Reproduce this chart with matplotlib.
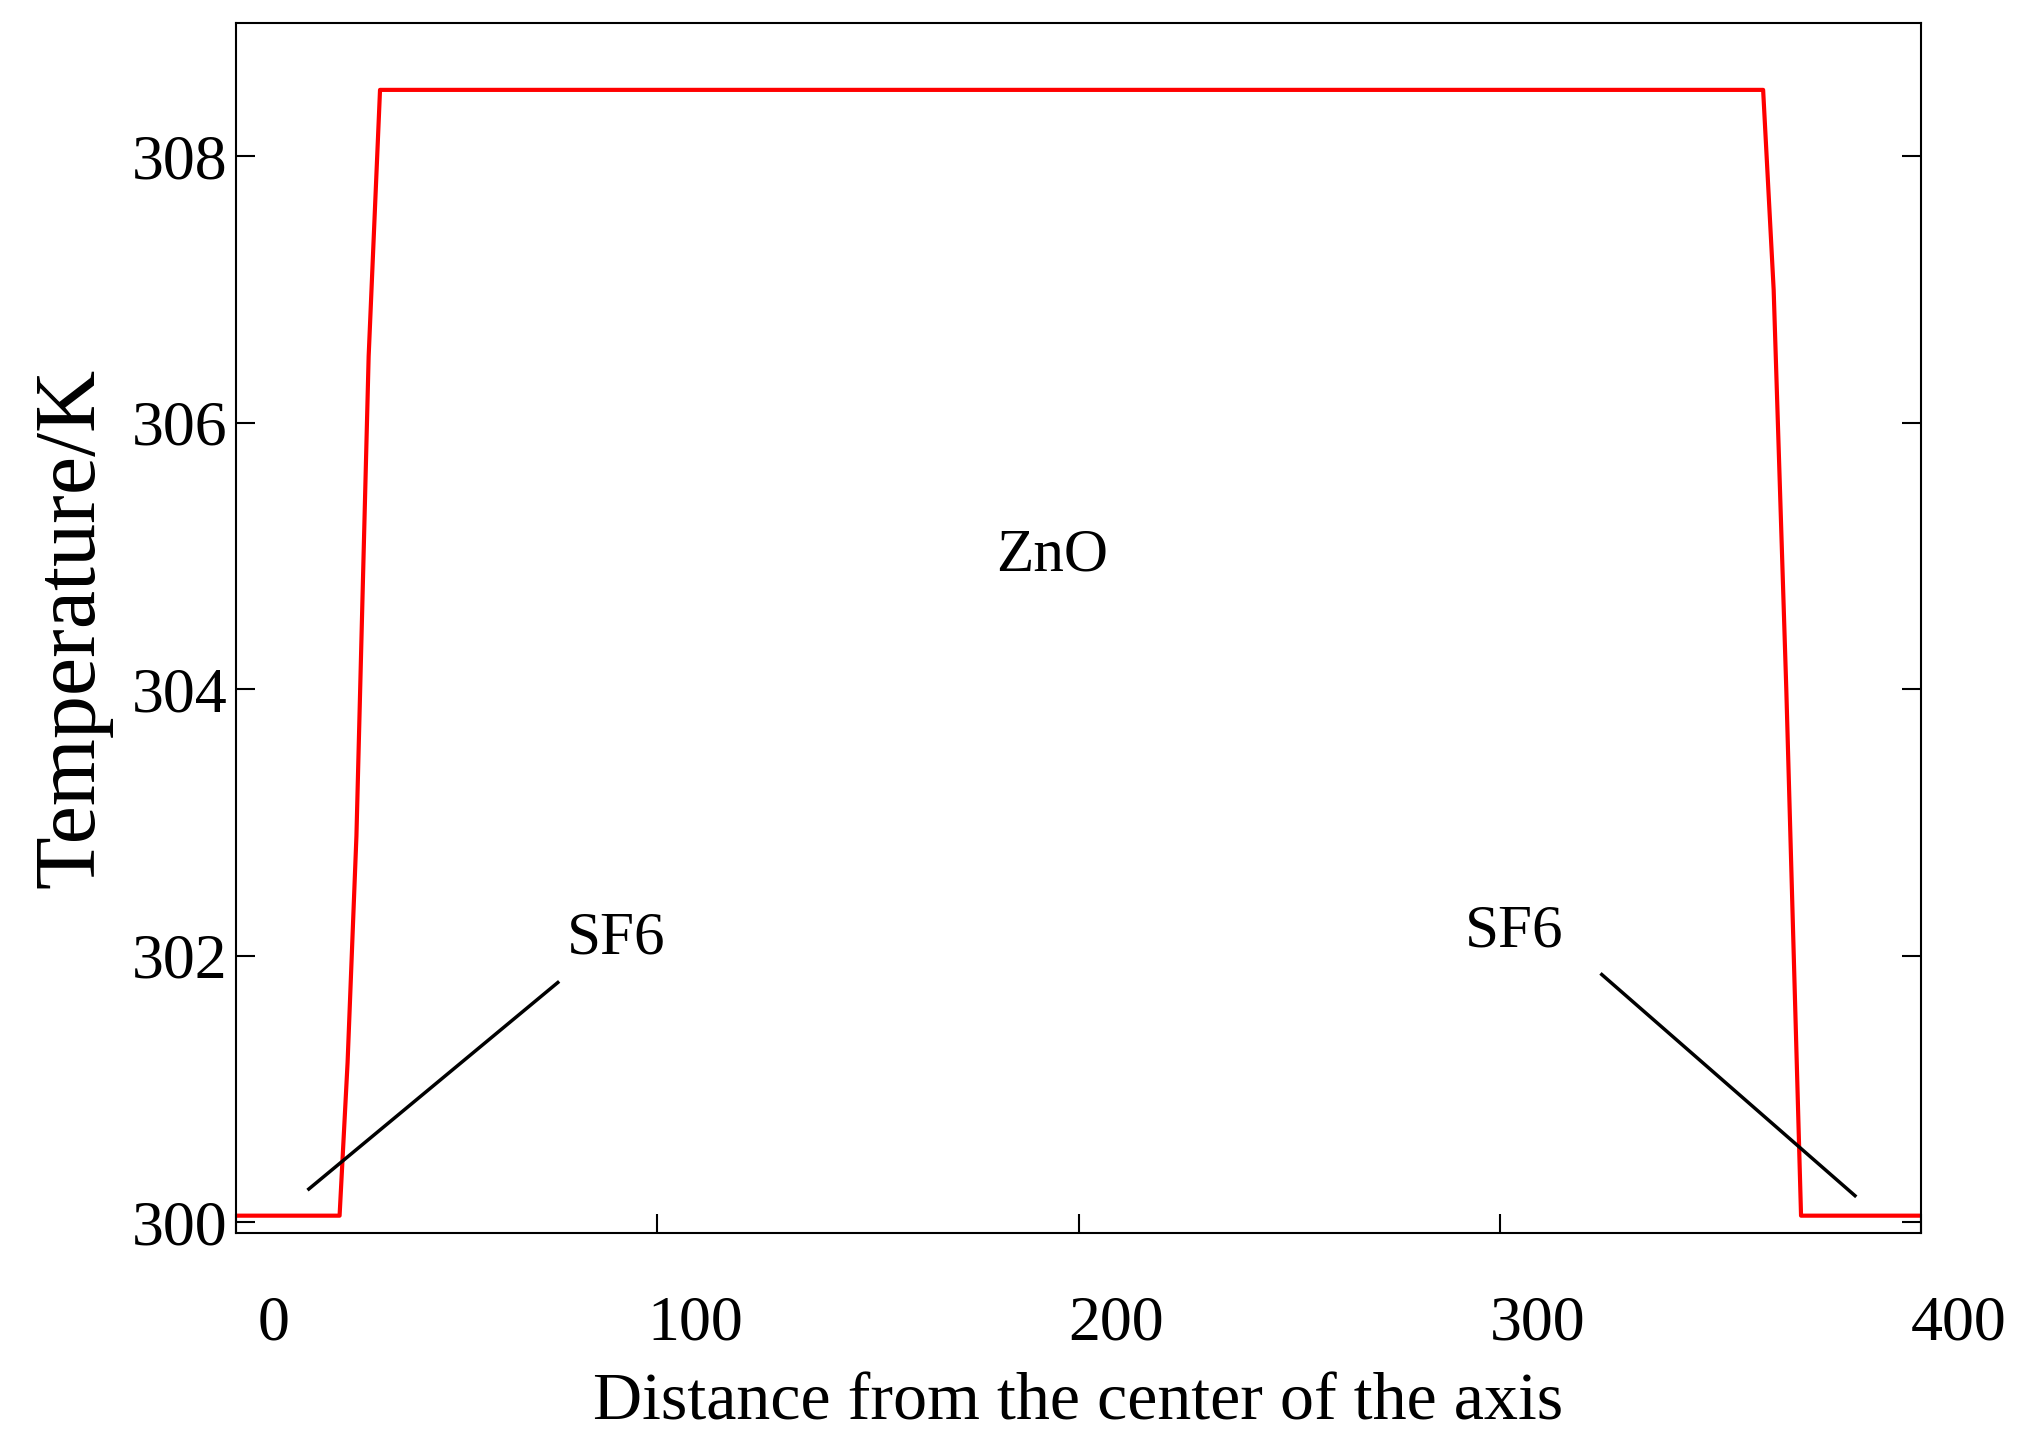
import matplotlib.pyplot as plt
import matplotlib.transforms as mtransforms

plt.rcParams['font.family'] = ['Liberation Serif', 'DejaVu Serif']

# Temperature profile along the radial distance
distance = [0, 24.6, 26.5, 28.6, 31.5, 34.2, 362.5, 365.0, 368.0, 371.5, 400]
temperature = [300.05, 300.05, 301.2, 302.9, 306.5, 308.5, 308.5, 307.0, 304.0, 300.05, 300.05]

xticks = [0, 100, 200, 300, 400]
yticks = [300, 302, 304, 306, 308]

fig = plt.figure(figsize=(20.34, 14.54), dpi=100)
ax = fig.add_axes([0.116, 0.152, 0.8285, 0.832])
ax.plot(distance, temperature, color='red', linewidth=3)

ax.set_xlim(0, 400)
ax.set_ylim(299.92, 309.0)
ax.set_xticks(xticks)
ax.set_yticks(yticks)
ax.tick_params(direction='in', length=14, width=1.5, labelsize=46,
               right=True, top=False)
ax.tick_params(axis='x', pad=45)
ax.tick_params(axis='y', pad=6)
offset = mtransforms.ScaledTranslation(0.38, 0, fig.dpi_scale_trans)
for lbl in ax.get_xticklabels():
    lbl.set_transform(lbl.get_transform() + offset)
for s in ax.spines.values():
    s.set_linewidth(1.5)

ax.set_xlabel('Distance from the center of the axis', fontsize=49, labelpad=14)
ax.set_ylabel('Temperature/K', fontsize=62, labelpad=14)

ax.text(193.8, 305.0, 'ZnO', fontsize=44, ha='center', va='center')
ax.text(90.3, 302.13, 'SF6', fontsize=44, ha='center', va='center')
ax.text(303.5, 302.18, 'SF6', fontsize=44, ha='center', va='center')
ax.plot([76.4, 17.3], [301.8, 300.25], color='black', linewidth=2.5)
ax.plot([324.2, 384.3], [301.86, 300.2], color='black', linewidth=2.5)

fig.savefig('out.png', dpi=100)
